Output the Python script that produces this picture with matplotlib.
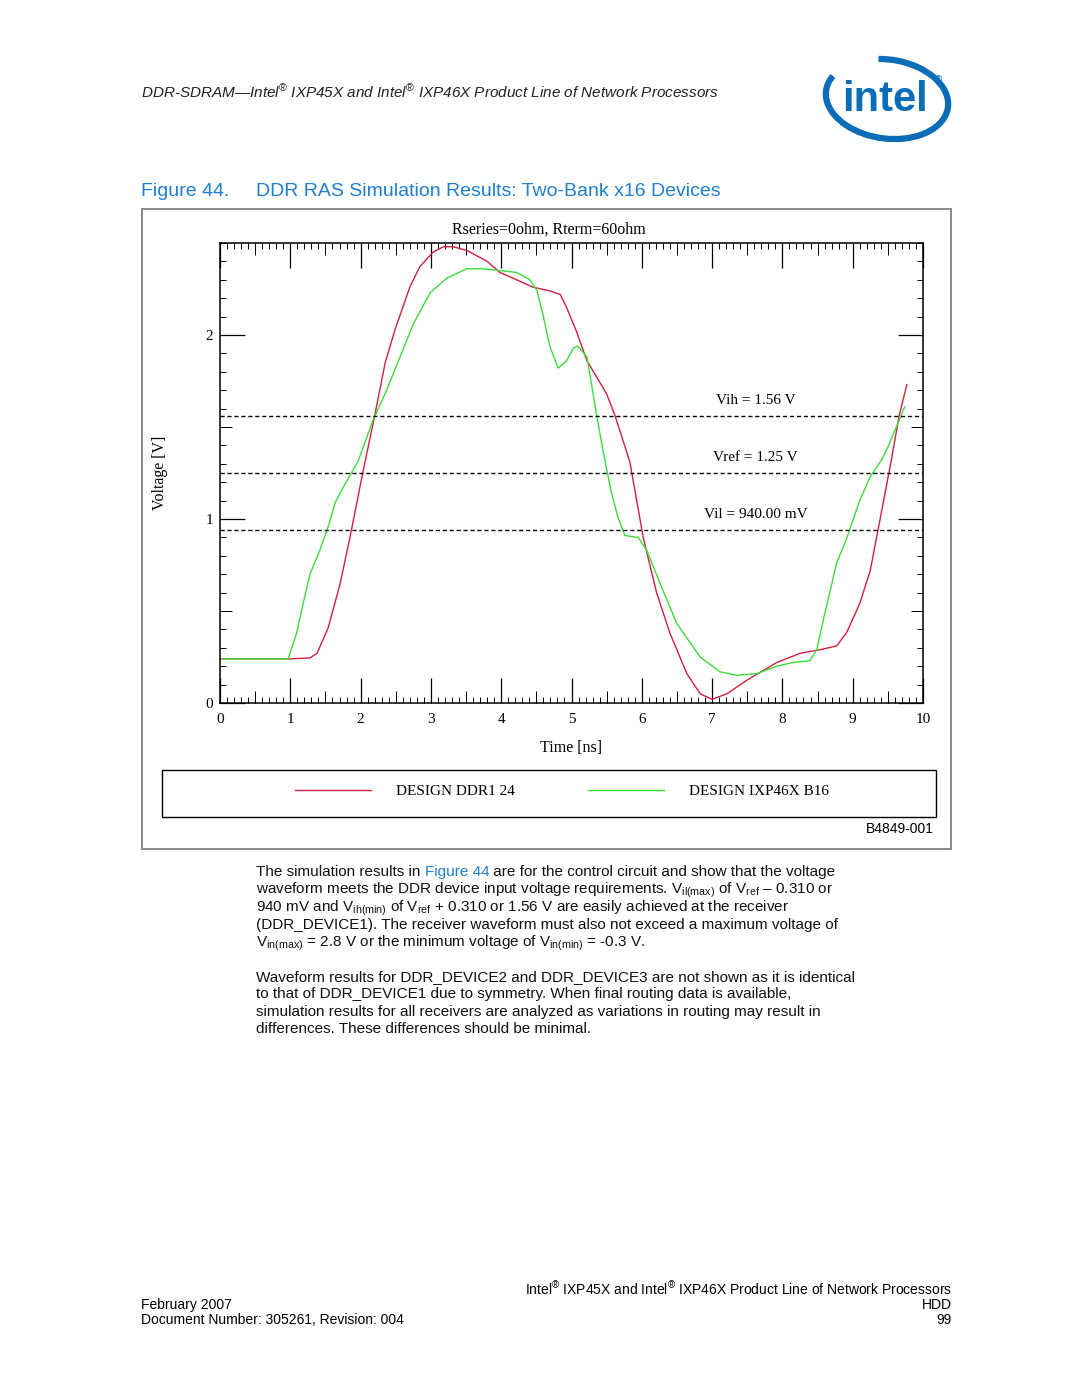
import numpy as np
import matplotlib
matplotlib.use('Agg')
import matplotlib.pyplot as plt
from matplotlib.patches import Arc, Rectangle
from matplotlib.ticker import MultipleLocator

plt.rcParams['font.family'] = ['Liberation Sans', 'DejaVu Sans']
plt.rcParams['mathtext.fontset'] = 'custom'
plt.rcParams['mathtext.rm'] = 'Liberation Sans'
plt.rcParams['mathtext.it'] = 'Liberation Sans:italic'
plt.rcParams['mathtext.bf'] = 'Liberation Sans:bold'

# waveforms (time in ns, voltage in V)
t_ddr = [0.00, 1.00, 1.28, 1.38, 1.54, 1.71, 1.87, 2.03, 2.20, 2.35, 2.49, 2.70,
         2.84, 3.03, 3.18, 3.31, 3.51, 3.80, 3.98, 4.22, 4.45, 4.69, 4.84, 4.93,
         5.07, 5.22, 5.36, 5.50, 5.62, 5.73, 5.83, 6.02, 6.21, 6.40, 6.64, 6.83,
         7.00, 7.21, 7.50, 7.92, 8.25, 8.54, 8.77, 8.91, 9.10, 9.25, 9.36, 9.46,
         9.55, 9.66, 9.77]
v_ddr = [0.24, 0.24, 0.245, 0.27, 0.41, 0.65, 0.94, 1.25, 1.56, 1.85, 2.03, 2.26,
         2.37, 2.45, 2.48, 2.48, 2.46, 2.40, 2.34, 2.30, 2.26, 2.24, 2.22, 2.15,
         2.02, 1.86, 1.77, 1.68, 1.56, 1.43, 1.31, 0.90, 0.60, 0.38, 0.16, 0.05,
         0.02, 0.05, 0.125, 0.22, 0.27, 0.29, 0.31, 0.38, 0.54, 0.72, 0.94, 1.14,
         1.32, 1.56, 1.73]

t_ixp = [0.00, 0.97, 1.09, 1.17, 1.28, 1.42, 1.54, 1.64, 1.75, 1.87, 1.97, 2.18,
         2.37, 2.56, 2.75, 2.99, 3.23, 3.51, 3.74, 3.98, 4.22, 4.41, 4.51, 4.60,
         4.69, 4.81, 4.93, 5.03, 5.09, 5.22, 5.36, 5.43, 5.50, 5.57, 5.66, 5.76,
         5.95, 6.07, 6.26, 6.50, 6.83, 7.11, 7.35, 7.64, 7.92, 8.15, 8.39, 8.49,
         8.58, 8.68, 8.77, 8.91, 9.00, 9.10, 9.25, 9.41, 9.50, 9.74]
v_ixp = [0.24, 0.24, 0.38, 0.52, 0.70, 0.83, 0.96, 1.09, 1.17, 1.25, 1.32, 1.54,
         1.70, 1.88, 2.06, 2.23, 2.31, 2.36, 2.36, 2.35, 2.34, 2.30, 2.24, 2.10,
         1.94, 1.82, 1.86, 1.93, 1.94, 1.88, 1.56, 1.41, 1.27, 1.14, 1.01, 0.91,
         0.90, 0.83, 0.65, 0.43, 0.25, 0.17, 0.15, 0.16, 0.20, 0.22, 0.23, 0.29,
         0.45, 0.61, 0.76, 0.89, 0.99, 1.10, 1.23, 1.32, 1.39, 1.61]

levels = [1.56, 1.25, 0.94]
level_labels = ['Vih = 1.56 V', 'Vref = 1.25 V', 'Vil = 940.00 mV']
series_names = ['DESIGN DDR1 24', 'DESIGN IXP46X B16']
series_colors = ['#d0203c', '#3cdc3c']
x_ticks = list(range(0, 11))
y_ticks = [0, 1, 2]
x_half = [i + 0.5 for i in range(10)]
y_half = [0.5, 1.5]

W, H = 1080, 1397
blue = '#0b6cb8'
link = '#1f7fcf'
serif = 'Liberation Serif'

fig = plt.figure(figsize=(W / 100, H / 100), dpi=100)

# page layer in pixel units
page = fig.add_axes([0, 0, 1, 1])
page.set_xlim(0, W)
page.set_ylim(H, 0)
page.axis('off')

page.text(141, 92, 'DDR-SDRAM\u2014Intel$^{\u00ae}$ IXP45X and Intel$^{\u00ae}$ IXP46X Product Line of Network Processors',
          fontsize=11, style='italic', va='center', color='#222222')

# logo
page.add_patch(Arc((887, 99), 123, 79, angle=8, theta1=250, theta2=555, lw=4.5, color=blue))
page.text(885, 100, 'intel', fontsize=30, fontweight='bold', color=blue, ha='center', va='center')
page.text(938, 80, '\u00ae', fontsize=7, color=blue, ha='center', va='center')

page.text(141, 192, 'Figure 44.', fontsize=14, color=link, va='center')
page.text(256, 192, 'DDR RAS Simulation Results: Two-Bank x16 Devices', fontsize=14, color=link, va='center')

page.add_patch(Rectangle((142, 209), 809, 640, fill=False, ec='#808080', lw=1.3))

# chart
ax = fig.add_axes([220 / W, 1 - 703 / H, 703 / W, 460 / H])
lines = []
lines += ax.plot(t_ddr, v_ddr, color=series_colors[0], lw=1)
lines += ax.plot(t_ixp, v_ixp, color=series_colors[1], lw=1)
for v, lab in zip(levels, level_labels):
    ax.axhline(v, color='black', lw=1, ls=(0, (3, 2)))
    ax.text(7.62, v + 0.085, lab, ha='center', va='center', fontfamily=serif, fontsize=11)

ax.set_xlim(0, 10)
ax.set_ylim(0, 2.5)
ax.set_xticks(x_ticks)
ax.set_xticklabels([str(x) for x in x_ticks], fontfamily=serif, fontsize=11)
ax.set_yticks(y_ticks)
ax.set_yticklabels([str(y) for y in y_ticks], fontfamily=serif, fontsize=11)
ax.xaxis.set_minor_locator(MultipleLocator(0.1))
ax.yaxis.set_minor_locator(MultipleLocator(0.1))
ax.tick_params(which='major', direction='in', length=18, width=0.9, top=True, right=True)
ax.tick_params(axis='x', which='major', pad=7)
ax.tick_params(axis='y', which='major', pad=5)
ax.tick_params(which='minor', direction='in', length=4.3, width=0.7, top=True, right=True)
for sp in ax.spines.values():
    sp.set_linewidth(1.1)

for side in ['bottom', 'top']:
    s = ax.secondary_xaxis(side)
    s.set_xticks(x_half)
    s.tick_params(direction='in', length=8.5, width=0.7, labelbottom=False, labeltop=False)
    s.spines[side].set_visible(False)
for side in ['left', 'right']:
    s = ax.secondary_yaxis(side)
    s.set_yticks(y_half)
    s.tick_params(direction='in', length=8.5, width=0.7, labelleft=False, labelright=False)
    s.spines[side].set_visible(False)

page.text(549, 230, 'Rseries=0ohm, Rterm=60ohm', ha='center', va='center', fontfamily=serif, fontsize=11.5)
page.text(160, 473, 'Voltage [V]', rotation=90, ha='center', va='center', fontfamily=serif, fontsize=11.5)
page.text(571, 748, 'Time [ns]', ha='center', va='center', fontfamily=serif, fontsize=11.5)

# legend
page.add_patch(Rectangle((162, 770), 774, 47, fill=False, ec='black', lw=1))
fig.legend(lines, series_names, loc='center', bbox_to_anchor=(562 / W, 1 - 791 / H), ncol=2,
           frameon=False, prop={'family': serif, 'size': 11}, handlelength=5.0,
           handletextpad=1.6, columnspacing=4.8)

page.text(934, 829, 'B4849-001', ha='right', va='center', fontsize=10)

# body text
k = '#111111'
body = [
    (876, [('The simulation results in ', k), ('Figure 44', link),
           (' are for the control circuit and show that the voltage', k)]),
    (894, [(r'waveform meets the DDR device input voltage requirements. V$_{\rm il(max)}$ of V$_{\rm ref}$ \u2013 0.310 or', k)]),
    (912, [(r'940 mV and V$_{\rm ih(min)}$ of V$_{\rm ref}$ + 0.310 or 1.56 V are easily achieved at the receiver', k)]),
    (929, [('(DDR_DEVICE1). The receiver waveform must also not exceed a maximum voltage of', k)]),
    (947, [(r'V$_{\rm in(max)}$ = 2.8 V or the minimum voltage of V$_{\rm in(min)}$ = -0.3 V.', k)]),
    (981, [('Waveform results for DDR_DEVICE2 and DDR_DEVICE3 are not shown as it is identical', k)]),
    (998, [('to that of DDR_DEVICE1 due to symmetry. When final routing data is available,', k)]),
    (1016, [('simulation results for all receivers are analyzed as variations in routing may result in', k)]),
    (1033, [('differences. These differences should be minimal.', k)]),
]
for base, segs in body:
    prev = None
    for txt, col in segs:
        txt = txt.replace('\\u2013', '\u2013')
        if prev is None:
            prev = page.text(256, base, txt, fontsize=11, color=col, va='baseline')
        else:
            prev = page.annotate(txt, xy=(1, base), xycoords=(prev, 'data'), fontsize=11,
                                 color=col, va='baseline', ha='left')

# footer
page.text(952, 1295, 'Intel$^{\u00ae}$ IXP45X and Intel$^{\u00ae}$ IXP46X Product Line of Network Processors',
          ha='right', va='baseline', fontsize=10)
page.text(952, 1309, 'HDD', ha='right', va='baseline', fontsize=10)
page.text(952, 1324, '99', ha='right', va='baseline', fontsize=10)
page.text(141, 1309, 'February 2007', ha='left', va='baseline', fontsize=10)
page.text(141, 1324, 'Document Number: 305261, Revision: 004', ha='left', va='baseline', fontsize=10)

fig.savefig('out.png', dpi=100)
